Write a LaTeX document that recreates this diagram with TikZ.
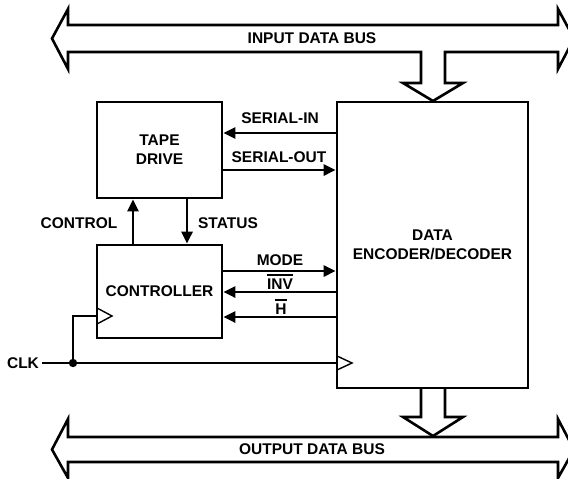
\documentclass[tikz,border=0pt]{standalone}
\usepackage{fontspec}
\setmainfont{Liberation Sans}
\usetikzlibrary{arrows.meta}
\newcommand{\barred}[1]{\setbox0\hbox{#1}\rlap{\rule[13.6pt]{\wd0}{1.6pt}}\box0}
\begin{document}
\begin{tikzpicture}[x=1pt,y=-1pt,
  every node/.style={font=\bfseries\fontsize{15.5}{18}\selectfont, inner sep=0pt},
  lw/.style={line width=2.6pt},
  box/.style={draw, line width=2.6pt, inner sep=0pt, align=center},
  sig/.style={line width=2.6pt, -{Triangle[length=12pt,width=11pt]}},
  clkmark/.style={line width=1.4pt, line join=miter},
  bus/.style={line width=2.6pt, line join=miter}]
\useasboundingbox (0,0) rectangle (568,479);

% blocks
\node[box, minimum width=125pt, minimum height=96pt] (tape) at (159.5,150) {TAPE\\[1pt]DRIVE};
\node[box, minimum width=125pt, minimum height=93pt] (ctrl) at (159.5,291.5) {CONTROLLER};
\node[box, minimum width=191pt, minimum height=286pt] (enc) at (432.5,245) {DATA\\[1pt]ENCODER/DECODER};

% input data bus
\draw[bus] (68,52) -- (421,52) -- (421,83) -- (403,83) -- (433,101) -- (463,83) -- (445,83) -- (445,52)
  -- (558,52) -- (558,69) -- (574,38.5) -- (558,9) -- (558,25) -- (68,25) -- (68,9) -- (52,38.5) -- (68,69) -- cycle;
\node (inbus) at (312,38.5) {INPUT DATA BUS};

% output data bus
\draw[bus] (421,388) -- (421,417) -- (403,417) -- (433,436) -- (463,417) -- (445,417) -- (445,388);
\draw[bus] (68,462) -- (558,462) -- (558,478) -- (574,449.5) -- (558,419) -- (558,437) -- (68,437) -- (68,419) -- (52,449.5) -- (68,478) -- cycle;
\node (outbus) at (312,449.5) {OUTPUT DATA BUS};

% tape drive <-> encoder
\draw[sig] (enc.west |- 0,133) -- (tape.east |- 0,133);
\node (sin) at (280,118) {SERIAL-IN};
\draw[sig] (tape.east |- 0,170) -- (enc.west |- 0,170);
\node (sout) at (279,157) {SERIAL-OUT};

% controller <-> tape drive
\draw[sig] (ctrl.north -| 133,0) -- (tape.south -| 133,0);
\node (control) at (79,223) {CONTROL};
\draw[sig] (tape.south -| 187,0) -- (ctrl.north -| 187,0);
\node (status) at (228,223) {STATUS};

% controller <-> encoder
\draw[sig] (ctrl.east |- 0,271) -- (enc.west |- 0,271);
\node (mode) at (280,260) {MODE};
\draw[sig] (enc.west |- 0,292) -- (ctrl.east |- 0,292);
\node (inv) at (280,282) {\barred{INV}};
\draw[sig] (enc.west |- 0,317) -- (ctrl.east |- 0,317);
\node (h) at (281,307) {\barred{H}};

% clock
\node (clk) at (23,363) {CLK};
\coordinate (j) at (73,363);
\draw[lw] ([xshift=3pt]clk.east) -- (enc.west |- clk.east);
\draw[lw] (j) |- (ctrl.west |- 0,316);
\fill (j) circle (4.2pt);
\draw[clkmark] (97,308) -- (112,316) -- (97,324);
\draw[clkmark] (337,356) -- (352,363) -- (337,370);
\end{tikzpicture}
\end{document}
